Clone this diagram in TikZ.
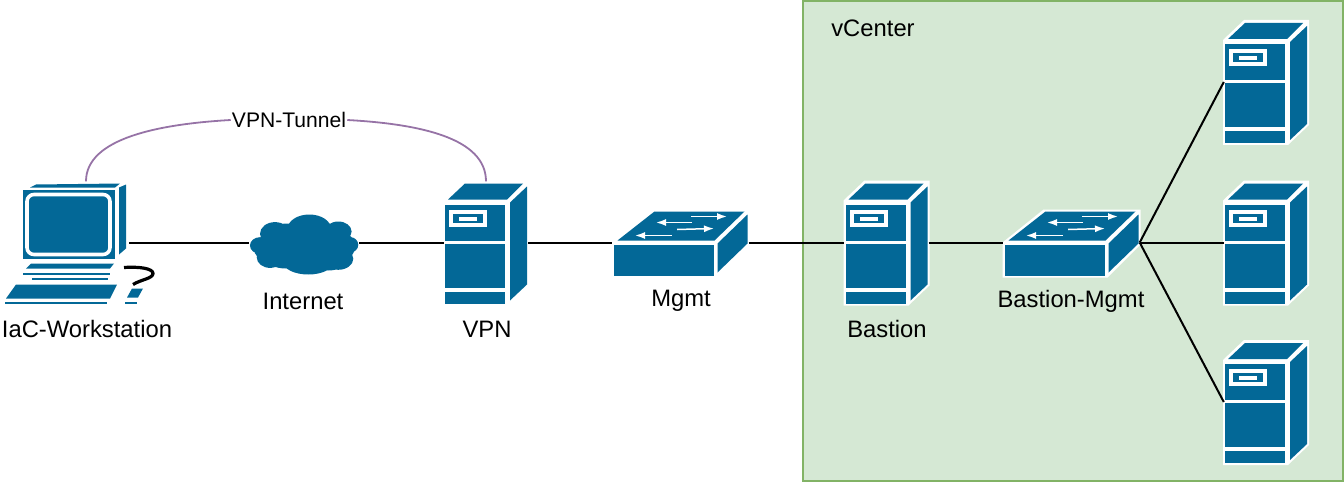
\documentclass[tikz,border=0pt]{standalone}
\usepackage{fontspec}
\setmainfont{Liberation Sans}
\usetikzlibrary{arrows.meta}
\definecolor{ciscoblue}{HTML}{036897}
\definecolor{vcfill}{HTML}{D5E8D4}
\definecolor{vcline}{HTML}{82B366}
\definecolor{tunnel}{HTML}{9673A6}
\tikzset{
  lbl/.style={font=\fontsize{23.8}{26}\selectfont, text=black, inner sep=0pt},
  link/.style={draw=black, line width=2pt},
  flow/.style={-{Latex[length=10pt,width=7pt]}, white, line width=1.5pt},
  server/.pic={
    \fill[white] (-43,-42) -- (-22,-62) -- (43,-62) -- (43,43) -- (22,63) -- (-43,63) -- cycle;
    \fill[ciscoblue] (-41,-38) rectangle (19,-2);
    \fill[ciscoblue] (-41,1) rectangle (19,45);
    \fill[ciscoblue] (-41,49) rectangle (19,61);
    \fill[ciscoblue] (-38,-43) -- (-21,-59) -- (37,-59) -- (21,-43) -- cycle;
    \fill[ciscoblue] (24,-40) -- (41,-56) -- (41,42) -- (24,58) -- cycle;
    \fill[white] (-37,-33) rectangle (1,-16);
    \fill[ciscoblue] (-33,-29) rectangle (-3,-20);
    \fill[white] (-27,-26) rectangle (-9,-22);
    \node[minimum width=84pt, minimum height=122pt, inner sep=0pt] (-box) at (0,0) {};
  },
  switchbox/.pic={
    \fill[white] (-69,0) -- (-28,-33) -- (69,-33) -- (69,2) -- (36,35) -- (-69,35) -- cycle;
    \fill[ciscoblue] (-67,2) rectangle (33,33);
    \fill[ciscoblue] (-63,-2) -- (-26,-31) -- (64,-31) -- (34,-2) -- cycle;
    \fill[ciscoblue] (37,1) -- (67,-28) -- (67,1) -- (37,30) -- cycle;
    \draw[flow] (10.5,-26) -- (46.5,-26);
    \draw[flow] (11.5,-20) -- (-24.5,-20);
    \draw[flow] (-3.5,-13) -- (33.5,-14);
    \draw[flow] (-8.5,-7) -- (-45.5,-7);
    \node[minimum width=136pt, minimum height=60pt, inner sep=0pt] (-box) at (0,0) {};
  },
  cloudshape/.pic={
    \fill[ciscoblue, shift={(0,2)}]
      (-44,1) ellipse [x radius=10, y radius=8.3]
      (-29,-10.7) ellipse [x radius=15, y radius=11.7]
      (5.3,-15.7) ellipse [x radius=21.7, y radius=14.3]
      (34.3,-13) ellipse [x radius=13.3, y radius=10]
      (46,0.3) ellipse [x radius=8.3, y radius=7.7]
      (34.3,14.3) ellipse [x radius=15, y radius=11]
      (4.3,17.7) ellipse [x radius=25, y radius=12.3]
      (-34,12.7) ellipse [x radius=13.3, y radius=10.7]
      (-16,-13) ellipse [x radius=20, y radius=8]
      (22,-13) ellipse [x radius=20, y radius=8]
      (-18,14) ellipse [x radius=20, y radius=10]
      (24,15) ellipse [x radius=20, y radius=11]
      (-38,4) ellipse [x radius=12, y radius=12]
      (40,2) ellipse [x radius=11, y radius=13]
      (0,0) ellipse [x radius=42, y radius=20];
    \node[minimum width=110pt, minimum height=60pt, inner sep=0pt] (-box) at (0,0) {};
  },
  workstation/.pic={
    \begin{scope}[shift={(-67,-242)}]
      % monitor
      \fill[ciscoblue] (23,189) rectangle (115,258);
      \fill[ciscoblue] (36,184) -- (120,183) -- (115,187) -- (30,187) -- cycle;
      \fill[ciscoblue] (119,187) -- (126,184) -- (126,248) -- (119,254) -- cycle;
      \draw[white, line width=3.6pt, rounded corners=7pt] (27,194) rectangle (110,254);
      % base and keyboard
      \fill[ciscoblue] (26,268) -- (31,263) -- (114,263) -- (110,268) -- cycle;
      \fill[ciscoblue] (23,272) rectangle (110,274);
      \fill[ciscoblue] (32,277) rectangle (108,279);
      \fill[ciscoblue] (6,298) -- (16,284) -- (117,284) -- (110,298) -- cycle;
      \fill[ciscoblue] (5,301) rectangle (107,303);
      % mouse
      \fill[ciscoblue] (127,297) -- (132,288) -- (143,288) -- (138,297) -- cycle;
      \fill[ciscoblue] (125,301) rectangle (137,303);
      \draw[black, line width=3.2pt] (124,267) .. controls (140,266) and (153,268) .. (153,273) .. controls (153,278) and (141,279) .. (133,284);
    \end{scope}
    \node[minimum width=124pt, minimum height=122pt, inner sep=0pt] (-box) at (0,0) {};
  }
}
\begin{document}
\begin{tikzpicture}[x=1pt,y=-1pt]
  \useasboundingbox (0,0) rectangle (1344,484);
  \draw[fill=vcfill, draw=vcline, line width=2pt] (803,1) rectangle (1343,481);
  \node[lbl] (vclabel) at (873,28) {vCenter};

  \pic (iac) at (67,242.5) {workstation};
  \pic (inet) at (304,242.5) {cloudshape};
  \pic (vpn) at (486,242.5) {server};
  \pic (mgmt) at (680.5,242.5) {switchbox};
  \pic (bastion) at (886.5,242.5) {server};
  \pic (bmgmt) at (1071.5,242.5) {switchbox};
  \pic (srva) at (1266,82) {server};
  \pic (srvb) at (1266,242.5) {server};
  \pic (srvc) at (1266,402) {server};

  \node[lbl] (iaclabel) at (87,329) {IaC-Workstation};
  \node[lbl] (inetlabel) at (303,301) {Internet};
  \node[lbl] (vpnlabel) at (487,329) {VPN};
  \node[lbl] (mgmtlabel) at (681,301) {Mgmt};
  \node[lbl] (bastionlabel) at (887,329) {Bastion};
  \node[lbl] (bmgmtlabel) at (1071,301) {Bastion-Mgmt};

  \draw[link] (iac-box) -- (inet-box);
  \draw[link] (inet-box) -- (vpn-box);
  \draw[link] (vpn-box) -- (mgmt-box);
  \draw[link] (mgmt-box) -- (bastion-box);
  \draw[link] (bastion-box) -- (bmgmt-box);
  \draw[link] (bmgmt-box.east) -- (srva-box.west);
  \draw[link] (bmgmt-box.east) -- (srvb-box.west);
  \draw[link] (bmgmt-box.east) -- (srvc-box.west);

  \node[font=\fontsize{21.1}{23}\selectfont, inner sep=1pt] (tunnellabel) at (289,120) {VPN-Tunnel};
  \draw[draw=tunnel, line width=1.8pt] ([xshift=19pt]iac-box.north)
    .. controls (86,138) and (160,124) .. (tunnellabel.west);
  \draw[draw=tunnel, line width=1.8pt] (tunnellabel.east)
    .. controls (420,124) and (486,138) .. (vpn-box.north);
\end{tikzpicture}
\end{document}
